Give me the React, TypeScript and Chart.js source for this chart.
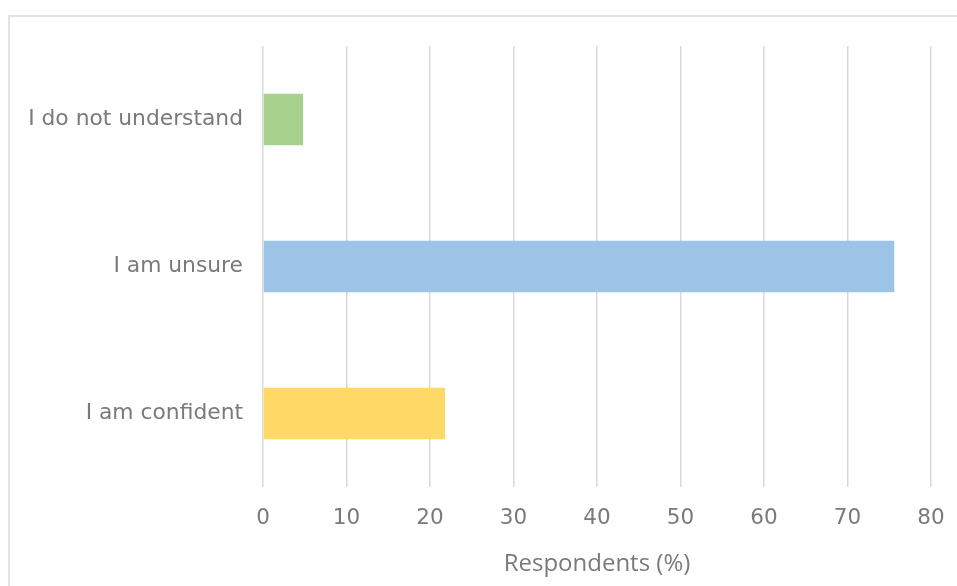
import React, { useEffect, useRef } from "react";
import { Chart, registerables } from "chart.js";

Chart.register(...registerables);

const categories = ["I do not understand", "I am unsure", "I am confident"];
const values = [4.8, 75.6, 21.8];
const barColors = ["#a9d18e", "#9dc3e6", "#ffd966"];
const xTicks = [0, 10, 20, 30, 40, 50, 60, 70, 80];
const xTitle = "Respondents (%)";

const framePlugin = {
  id: "frame",
  beforeDraw(chart: any) {
    const ctx = chart.ctx;
    ctx.save();
    ctx.strokeStyle = "#e2e2e2";
    ctx.lineWidth = 2;
    ctx.strokeRect(9, 16, 1200, 1200);
    ctx.restore();
  },
};

export default function App() {
  const ref = useRef<HTMLCanvasElement>(null);
  useEffect(() => {
    document.body.style.overflow = "hidden";
    const chart = new Chart(ref.current!, {
      type: "bar",
      data: {
        labels: categories,
        datasets: [
          {
            data: values,
            backgroundColor: barColors,
            borderWidth: 0,
            barPercentage: 0.35,
            categoryPercentage: 1,
          },
        ],
      },
      options: {
        indexAxis: "y",
        responsive: false,
        animation: false,
        layout: { padding: { left: 10, right: 26, top: 46, bottom: 0 } },
        plugins: { legend: { display: false }, tooltip: { enabled: false } },
        scales: {
          x: {
            min: 0,
            max: 80,
            afterBuildTicks: (scale: any) => {
              scale.ticks = xTicks.map((v) => ({ value: v }));
            },
            afterFit: (scale: any) => {
              scale.height = 99;
              scale.paddingRight = 0;
              scale.paddingLeft = 0;
            },
            grid: { color: "#d9d9d9", lineWidth: 1.5, drawTicks: false },
            border: { display: false },
            ticks: {
              padding: 19,
              color: "#7a7a7a",
              font: { family: "DejaVu Sans", size: 21.5 },
            },
            title: {
              display: true,
              text: xTitle,
              color: "#7a7a7a",
              padding: { top: 0, bottom: 7 },
              font: { family: "Open Sans", size: 24 },
            },
          },
          y: {
            afterFit: (scale: any) => {
              scale.width = 253;
              scale.paddingTop = 0;
              scale.paddingBottom = 0;
            },
            grid: { display: false, drawTicks: false },
            border: { display: false },
            ticks: {
              padding: 20,
              color: "#7a7a7a",
              font: { family: "DejaVu Sans", size: 21.8 },
            },
          },
        },
      },
      plugins: [framePlugin],
    });
    return () => chart.destroy();
  }, []);
  return (
    <div style={{ position: "fixed", left: 0, top: 0, width: 957, height: 586, background: "#fff" }}>
      <canvas ref={ref} width={957} height={586} style={{ width: 957, height: 586 }} />
    </div>
  );
}
